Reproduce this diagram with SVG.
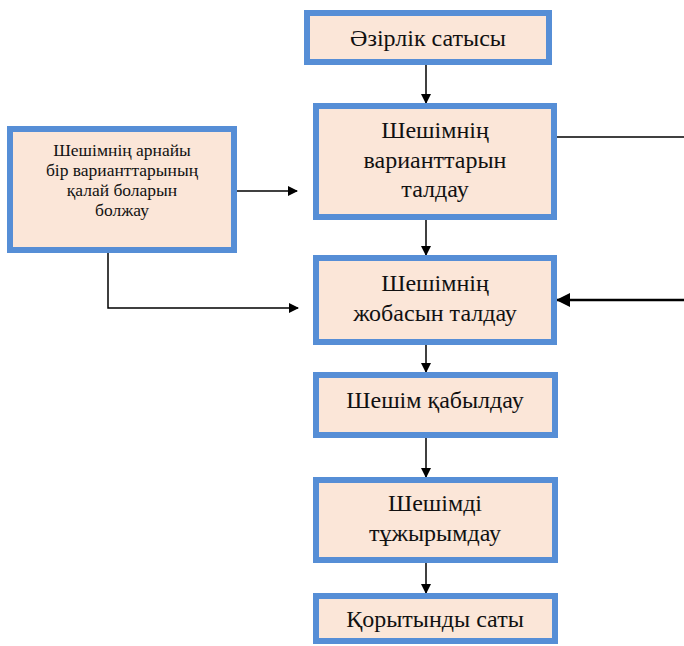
<svg xmlns="http://www.w3.org/2000/svg" width="684" height="646" viewBox="0 0 684 646">
<style>
.box{fill:#FBE6D8;stroke:#568ED6;stroke-width:6}
.t{font-family:"Times New Roman",Times,Tinos,"Liberation Serif","DejaVu Serif",serif;font-size:24px;fill:#111;text-anchor:middle}
.s{font-size:17.5px}
.c{stroke:#000;stroke-width:1.5;fill:none}
.c2{stroke:#000;stroke-width:2.5;fill:none}
</style>
<defs>
<marker id="a" markerWidth="10" markerHeight="10" refX="9" refY="5" orient="auto" markerUnits="userSpaceOnUse">
<path d="M0,0 L10,5 L0,10 Z" fill="#000"/>
</marker>
<marker id="b" markerWidth="14" markerHeight="14" refX="13" refY="7" orient="auto" markerUnits="userSpaceOnUse">
<path d="M0,0 L14,7 L0,14 Z" fill="#000"/>
</marker>
</defs>
<g id="connectors">
<line class="c" x1="426" y1="65" x2="426" y2="103" marker-end="url(#a)"/>
<line class="c" x1="426" y1="220" x2="426" y2="255" marker-end="url(#a)"/>
<line class="c" x1="426" y1="345" x2="426" y2="372" marker-end="url(#a)"/>
<line class="c" x1="426" y1="438" x2="426" y2="477" marker-end="url(#a)"/>
<line class="c" x1="426" y1="563" x2="426" y2="593" marker-end="url(#a)"/>
<line class="c" x1="237" y1="191" x2="297" y2="191" marker-end="url(#a)"/>
<polyline class="c" points="108,253 108,308 298,308" marker-end="url(#a)"/>
<line class="c" x1="557" y1="137" x2="684" y2="137"/>
<line class="c2" x1="684" y1="300" x2="557" y2="300" marker-end="url(#b)"/>
</g>
<g id="n1"><rect class="box" x="307" y="13" width="242" height="49"/><text class="t" x="428" y="46">Әзірлік сатысы</text></g>
<g id="n2"><rect class="box" x="316" y="106" width="238" height="111"/><text class="t"><tspan x="435" y="138">Шешімнің</tspan><tspan x="435" y="168">варианттарын</tspan><tspan x="435" y="197">талдау</tspan></text></g>
<g id="n3"><rect class="box" x="316" y="258" width="238" height="84"/><text class="t"><tspan x="435" y="291">Шешімнің</tspan><tspan x="435" y="321">жобасын талдау</tspan></text></g>
<g id="n4"><rect class="box" x="316" y="375" width="239" height="60"/><text class="t" x="435" y="408">Шешім қабылдау</text></g>
<g id="n5"><rect class="box" x="316" y="480" width="239" height="80"/><text class="t"><tspan x="435" y="511">Шешімді</tspan><tspan x="435" y="541">тұжырымдау</tspan></text></g>
<g id="n6"><rect class="box" x="316" y="596" width="239" height="45"/><text class="t" x="435" y="627">Қорытынды саты</text></g>
<g id="n7"><rect class="box" x="10" y="129" width="224" height="121"/><text class="t s"><tspan x="122" y="156">Шешімнің арнайы</tspan><tspan x="122" y="176">бір варианттарының</tspan><tspan x="122" y="196">қалай боларын</tspan><tspan x="122" y="216">болжау</tspan></text></g>
</svg>
